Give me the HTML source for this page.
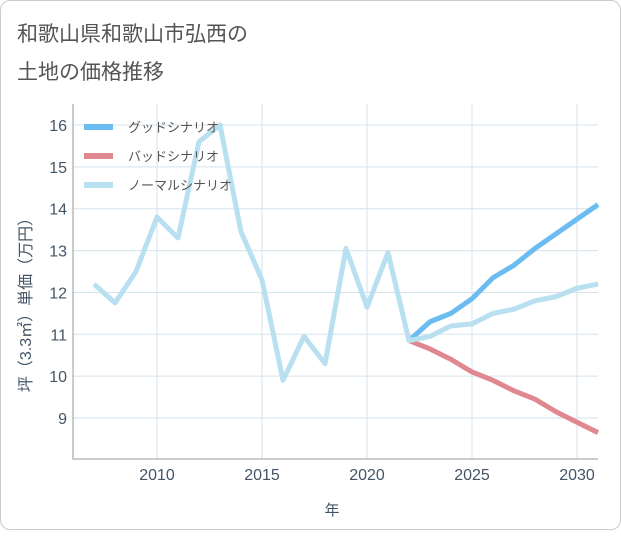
<!DOCTYPE html>
<html><head><meta charset="utf-8"><style>
body{margin:0;background:#fff;font-family:"Liberation Sans","Noto Sans CJK JP",sans-serif}
#card{position:absolute;left:0;top:0;width:619px;height:528px;border:1px solid #ccc;border-radius:10px;background:#fff}
</style></head><body>
<div id="card">
<svg id="chart" width="621" height="530">
<text x="16" y="40" font-size="21" fill="#555">和歌山県和歌山市弘西の</text>
<text x="16" y="78" font-size="21" fill="#555">土地の価格推移</text>
<g id="grid"></g><g id="series"></g><g id="legend"></g>
<text x="331" y="514" font-size="15" fill="#456" text-anchor="middle">年</text>
<text transform="translate(30,300) rotate(-90)" font-size="16" fill="#456" text-anchor="middle">坪（3.3㎡）単価（万円）</text>
</svg></div>
<script>
const years=[2007,2008,2009,2010,2011,2012,2013,2014,2015,2016,2017,2018,2019,2020,2021,2022,2023,2024,2025,2026,2027,2028,2029,2030,2031];
const normal=[12.2,11.75,12.5,13.8,13.3,15.6,16.0,13.45,12.3,9.9,10.95,10.3,13.05,11.65,12.95,10.85,10.95,11.2,11.25,11.5,11.6,11.8,11.9,12.1,12.2];
const fYears=[2022,2023,2024,2025,2026,2027,2028,2029,2030,2031];
const good=[10.85,11.3,11.5,11.85,12.35,12.65,13.05,13.4,13.75,14.1];
const bad=[10.85,10.65,10.4,10.1,9.9,9.65,9.45,9.15,8.9,8.65];
const xTicks=[2010,2015,2020,2025,2030];
const yTicks=[9,10,11,12,13,14,15,16];
const L=72,R=597,T=103,B=458;
const x=v=>156+(v-2010)*21;
const y=v=>124+(16-v)*41.86;
const NS="http://www.w3.org/2000/svg";
function mk(p,t,a){const e=document.createElementNS(NS,t);for(const k in a)e.setAttribute(k,a[k]);p.appendChild(e);return e;}
const g=document.getElementById('grid');
xTicks.forEach(v=>{const l=mk(g,'line',{x1:x(v),x2:x(v),y1:T,y2:B,stroke:'#d5e3ec','stroke-width':1});

const t=mk(g,'text',{x:x(v),y:479,'font-size':16,fill:'#456','text-anchor':'middle'});t.textContent=v;
});
yTicks.forEach(v=>{const l=mk(g,'line',{x1:L,x2:R,y1:y(v),y2:y(v),stroke:'#d5e3ec','stroke-width':1});

const t=mk(g,'text',{x:66,y:y(v)+6,'font-size':16,fill:'#456','text-anchor':'end'});t.textContent=v;
});
const ax=mk(g,'path',{d:`M${L} ${T}V${B}H${R}`,fill:'none',stroke:'#999','stroke-width':1});

const s=document.getElementById('series');
function line(xs,vs,c,n){const p=mk(s,'polyline',{points:xs.map((v,i)=>x(v)+','+y(vs[i])).join(' '),fill:'none',stroke:c,'stroke-width':5,'stroke-linejoin':'round'});
}
line(fYears,bad,'#e08890','bad-scenario-line');
line(fYears,good,'#6bbcf0','good-scenario-line');
line(years,normal,'#b8e0f0','normal-scenario-line');
const lg=document.getElementById('legend');
[['グッドシナリオ','#6bbcf0'],['バッドシナリオ','#e08890'],['ノーマルシナリオ','#b8e0f0']].forEach((d,i)=>{
const yy=126+i*29;
const r=mk(lg,'line',{x1:83,x2:112,y1:yy,y2:yy,stroke:d[1],'stroke-width':6});

const t=mk(lg,'text',{x:127,y:yy+5,'font-size':13,fill:'#555'});t.textContent=d[0];
});
</script></body></html>
